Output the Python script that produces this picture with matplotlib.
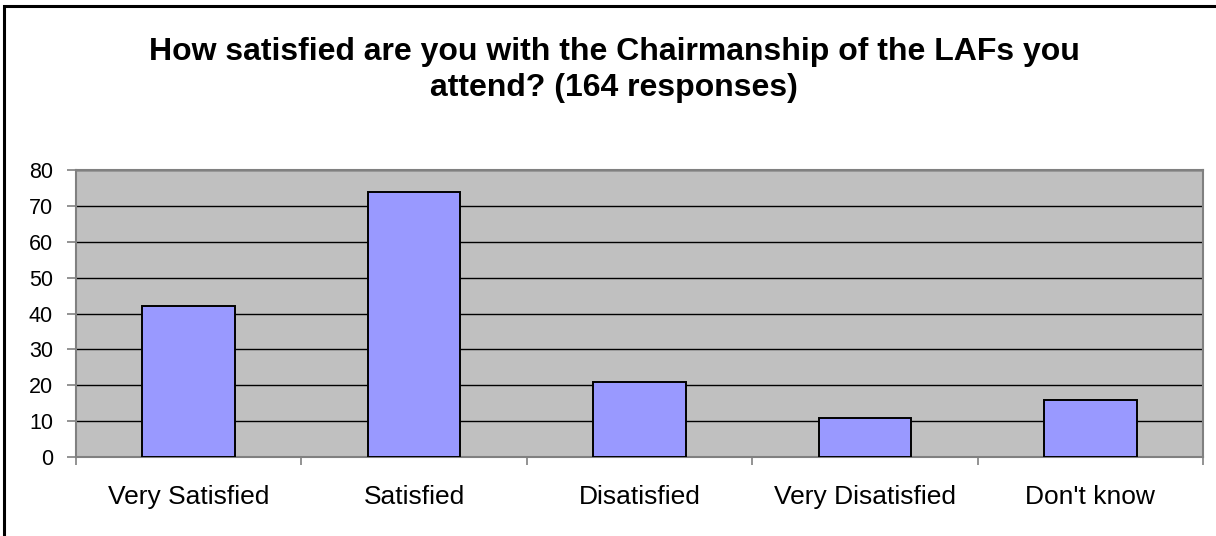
import numpy as np
import matplotlib
matplotlib.use('Agg')
import matplotlib.pyplot as plt
from matplotlib.patches import Rectangle

# survey answers
categories = ['Very Satisfied', 'Satisfied', 'Disatisfied', 'Very Disatisfied', "Don't know"]
responses = [42, 74, 21, 11, 16]
y_ticks = [0, 10, 20, 30, 40, 50, 60, 70, 80]

plt.rcParams['font.family'] = ['Liberation Sans', 'DejaVu Sans']

fig = plt.figure(figsize=(12.16, 5.36), dpi=100)
ax = fig.add_axes([76 / 1216, 1 - 457 / 536, (1203 - 76) / 1216, (457 - 170) / 536])

# outer frame round the chart
fig.patches.append(Rectangle((4 / 1216, -0.05), 1.1, 1 - 6 / 536 + 0.05,
                             transform=fig.transFigure, fill=False,
                             edgecolor='black', linewidth=2.2))

x = np.arange(len(categories))
ax.set_facecolor('#c0c0c0')
ax.bar(x, responses, width=0.41, color='#9999ff', edgecolor='black', linewidth=1.4, zorder=3)

ax.set_xlim(-0.5, len(categories) - 0.5)
ax.set_ylim(0, 80)
ax.set_yticks(y_ticks)
ax.yaxis.grid(True, color='black', linewidth=1.0, zorder=1)
ax.set_axisbelow(True)

ax.set_xticks(x)
ax.set_xticklabels(categories, fontsize=19)
ax.set_xticks(np.arange(len(categories) + 1) - 0.5, minor=True)
ax.tick_params(axis='x', which='major', length=0, pad=20)
ax.tick_params(axis='x', which='minor', length=6, color='#808080', width=1.2)
ax.tick_params(axis='y', length=6.5, color='#808080', width=1.2, labelsize=15.5, pad=10)

for s in ax.spines.values():
    s.set_color('#808080')
    s.set_linewidth(1.5)

fig.text(614 / 1216, 1 - 70 / 536,
         'How satisfied are you with the Chairmanship of the LAFs you\nattend? (164 responses)',
         ha='center', va='center', fontsize=23, fontweight='bold', linespacing=1.25)

fig.savefig('out.png', dpi=100)
